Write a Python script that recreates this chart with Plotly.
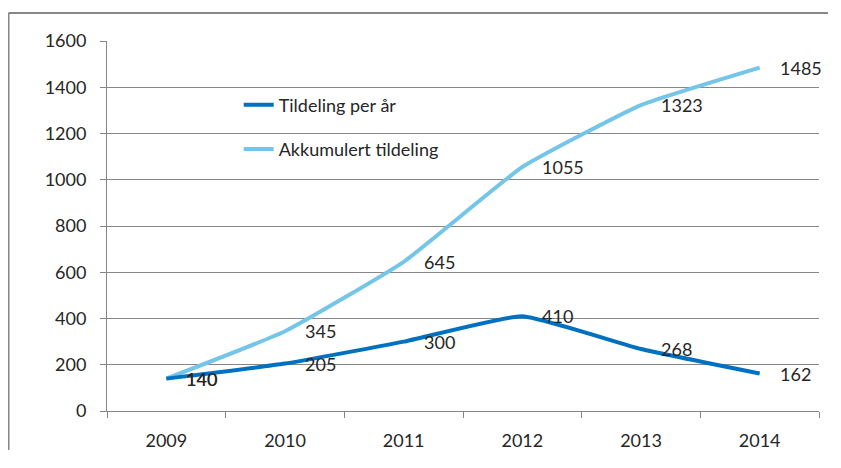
import plotly.graph_objects as go

years = ["2009", "2010", "2011", "2012", "2013", "2014"]
per_year = [140, 205, 300, 410, 268, 162]
accumulated = [140, 345, 645, 1055, 1323, 1485]
series_names = ["Tildeling per år", "Akkumulert tildeling"]
y_ticks = [0, 200, 400, 600, 800, 1000, 1200, 1400, 1600]

x_pos = list(range(len(years)))

dark = "#0070C0"
light = "#75C5E8"
font_family = "Lato, 'Open Sans', sans-serif"

fig = go.Figure()
fig.add_trace(go.Scatter(x=x_pos, y=accumulated, name=series_names[1], mode="lines",
                         line=dict(color=light, width=4, shape="spline", smoothing=0.4),
                         legendgroup="b", legendrank=2))
fig.add_trace(go.Scatter(x=x_pos, y=per_year, name=series_names[0], mode="lines",
                         line=dict(color=dark, width=4, shape="spline", smoothing=0.4),
                         legendgroup="a", legendrank=1))

annotations = []
for series in (per_year, accumulated):
    for x, v in zip(x_pos, series):
        annotations.append(dict(x=x, y=v, xref="x", yref="y", text=str(v), showarrow=False,
                                xanchor="left", yanchor="middle", xshift=18,
                                font=dict(size=18, color="#262626", family=font_family)))

border = dict(color="#878787", width=2)
fig.update_layout(
    width=820, height=442,
    margin=dict(l=99, r=9, t=33, b=39, autoexpand=False),
    paper_bgcolor="white", plot_bgcolor="white",
    font=dict(family=font_family, size=18, color="#262626"),
    showlegend=True,
    legend=dict(x=0.185, y=0.877, xanchor="left", yanchor="top", bgcolor="rgba(0,0,0,0)",
                font=dict(size=18, color="#262626"), tracegroupgap=18, traceorder="grouped"),
    annotations=annotations,
    shapes=[
        dict(type="line", xref="paper", yref="paper", x0=-0.1383, x1=1.0126, y0=1.0757, y1=1.0757,
             line=border, layer="below"),
        dict(type="line", xref="paper", yref="paper", x0=-0.1383, x1=-0.1383, y0=-0.2, y1=1.0757,
             line=border, layer="below"),
    ],
)
fig.update_xaxes(range=[-0.5, len(years) - 0.5], tickvals=x_pos, ticktext=years, ticks="",
                 showgrid=False, showline=True, linecolor="#878787", linewidth=1, zeroline=False,
                 minor=dict(ticks="outside", tick0=-0.5, dtick=1, ticklen=6, tickcolor="#878787",
                            showgrid=False),
                 ticklabelstandoff=13, tickfont=dict(size=18, color="#262626"))
fig.update_yaxes(range=[0, 1600], tickvals=y_ticks, showgrid=True, gridcolor="#878787", gridwidth=1,
                 showline=True, linecolor="#878787", linewidth=1, ticks="outside", ticklen=6,
                 tickcolor="#878787", ticklabelstandoff=10, zeroline=False,
                 tickfont=dict(size=18, color="#262626"))

fig.write_html("out.html")
